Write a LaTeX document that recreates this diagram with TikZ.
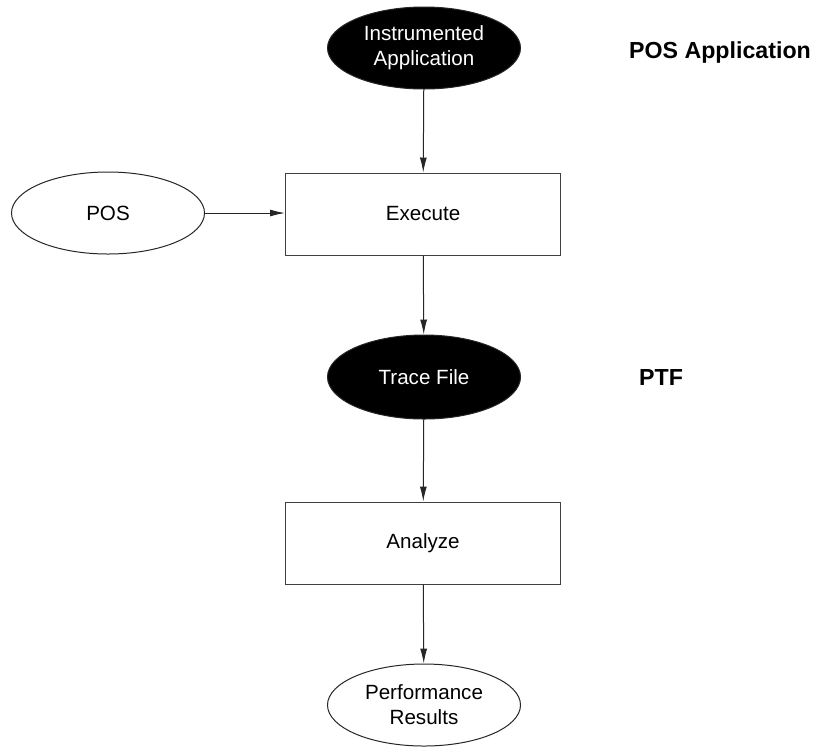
\documentclass[tikz,border=0pt]{standalone}
\usepackage{fontspec}
\setmainfont{Liberation Sans}
\usetikzlibrary{arrows.meta,shapes.geometric}

\begin{document}
\begin{tikzpicture}[x=0.5pt,y=-0.5pt,
    blob/.style={ellipse, draw=black!85, fill=black, text=white, line width=0.5pt,
        minimum width=96.5pt, minimum height=41pt, inner sep=0pt, align=center,
        font=\fontsize{10.3}{12.5}\selectfont},
    oval/.style={blob, fill=white, text=black},
    stepbox/.style={rectangle, draw=black!75, line width=0.5pt,
        minimum width=137.5pt, minimum height=41pt, font=\fontsize{10.3}{12.5}\selectfont},
    tag/.style={font=\fontsize{11.6}{14}\selectfont\bfseries},
    flow/.style={draw=black!85, line width=0.5pt, -{Latex[length=7.5pt,width=3.5pt]}}]
        \useasboundingbox (0,0) rectangle (822,746);
        \coordinate(I)at(424,48);
        \coordinate(E)at(423,214);
        \coordinate(P)at(108,213);
        \coordinate(T)at(424,377);
        \coordinate(A)at(423,543);
        \coordinate(R)at(424,705);
        % nodes
        \node[blob](inst)at(I){Instrumented\\Application};
        \node[stepbox](exec)at(E){Execute};
        \node[oval](pos)at(P){POS};
        \node[blob, minimum height=42pt](trace)at(T){Trace File};
        \node[stepbox](anal)at(A){Analyze};
        \node[oval](perf)at(R){Performance\\Results};
        % side labels
        \node[tag](posapp)at(720,52){POS Application};
        \node[tag](ptf)at(661,378){PTF};
        % arrows
        \path[flow](inst)to(exec);
        \path[flow](pos)to(exec.west|-pos);
        \path[flow](exec)to(trace);
        \path[flow](trace)to(anal);
        \path[flow](anal)to(perf);
    \end{tikzpicture}
\end{document}
